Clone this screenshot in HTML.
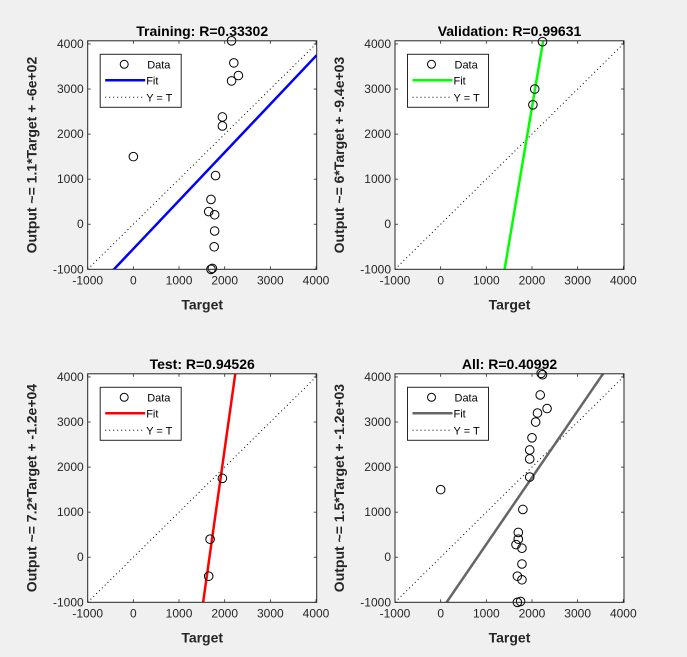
<!DOCTYPE html>
<html><head><meta charset="utf-8"><style>
html,body{margin:0;padding:0;background:#f0f0f0;width:687px;height:657px;overflow:hidden;}
svg{display:block;font-family:"Liberation Sans",Arial,sans-serif;}
</style></head><body>
<svg id="fig" width="687" height="657"></svg>
<script>
const ticks = [-1000, 0, 1000, 2000, 3000, 4000];
const titles = ["Training: R=0.33302", "Validation: R=0.99631", "Test: R=0.94526", "All: R=0.40992"];
const ylabels = ["Output ~= 1.1*Target + -6e+02", "Output ~= 6*Target + -9.4e+03", "Output ~= 7.2*Target + -1.2e+04", "Output ~= 1.5*Target + -1.2e+03"];
const fitColors = ["#0000ff", "#00ff00", "#ff0000", "#666666"];
const slopes = [1.07, 6.0, 7.2, 1.48];
const intercepts = [-545, -9400, -12000, -1192];
const trainX = [0, 1800, 1700, 1650, 1780, 1780, 1770, 1700, 1730, 1950, 1950, 2150, 2200, 2300, 2150];
const trainY = [1500, 1080, 550, 280, 210, -150, -500, -1000, -980, 2380, 2180, 3180, 3580, 3300, 4070];
const valX = [2060, 2020, 2230];
const valY = [3000, 2650, 4050];
const testX = [1950, 1680, 1650];
const testY = [1750, 400, -420];
const allX = [2200, 2230, 2180, 2330, 2120, 2080, 2000, 1950, 1950, 1950, 1800, 1700, 1700, 1650, 1780, 1780, 1680, 1780, 1680, 1750, 0];
const allY = [4080, 4050, 3600, 3300, 3200, 3000, 2650, 2380, 2180, 1780, 1060, 550, 400, 280, 200, -150, -420, -500, -1000, -980, 1500];
const xsData = [trainX, valX, testX, allX];
const ysData = [trainY, valY, testY, allY];
const names = ["training", "validation", "test", "all"];

const NS = "http://www.w3.org/2000/svg";
const svg = document.getElementById("fig");
function mk(tag, attrs, parent) {
  const e = document.createElementNS(NS, tag);
  for (const k in attrs) e.setAttribute(k, attrs[k]);
  (parent || svg).appendChild(e);
  return e;
}
const XMIN = -1000, XMAX = 4015, YMIN = -1000, YMAX = 4070;
const W = 229, H = 228.5;
const origins = [[87.7, 40.8], [395, 40.8], [87.7, 373.8], [395, 373.8]];

for (let p = 0; p < 4; p++) {
  const [L, T] = origins[p];
  const sx = v => L + (v - XMIN) / (XMAX - XMIN) * W;
  const sy = v => T + H - (v - YMIN) / (YMAX - YMIN) * H;
  const g = mk("g", {});
  
  
  const bg = mk("rect", {x: L, y: T, width: W, height: H, fill: "#fff"}, g);
  
  
  const clipId = "clip" + p;
  const cp = mk("clipPath", {id: clipId}, g);
  mk("rect", {x: L, y: T, width: W, height: H}, cp);
  const inner = mk("g", {"clip-path": "url(#" + clipId + ")"}, g);
  const yt = mk("line", {x1: sx(XMIN), y1: sy(XMIN), x2: sx(XMAX), y2: sy(XMAX), stroke: "#000", "stroke-width": 1, "stroke-dasharray": "1,3"}, inner);
  
  
  const m = slopes[p], b = intercepts[p];
  const fit = mk("line", {x1: sx(XMIN), y1: sy(m * XMIN + b), x2: sx(XMAX), y2: sy(m * XMAX + b), stroke: fitColors[p], "stroke-width": 2.5}, inner);
  
  
  const xs = xsData[p], ys = ysData[p];
  for (let i = 0; i < xs.length; i++) {
    const c = mk("circle", {cx: sx(xs[i]), cy: sy(ys[i]), r: 4.3, fill: "none", stroke: "#000", "stroke-width": 1}, g);
    
    
  }
  ticks.forEach(t => {
    const x = sx(t), y = sy(t);
    mk("line", {x1: x, y1: T + H, x2: x, y2: T + H - 3, stroke: "#262626", "stroke-width": 0.8}, g);
    mk("line", {x1: x, y1: T, x2: x, y2: T + 3, stroke: "#262626", "stroke-width": 0.8}, g);
    mk("line", {x1: L, y1: y, x2: L + 3, y2: y, stroke: "#262626", "stroke-width": 0.8}, g);
    mk("line", {x1: L + W, y1: y, x2: L + W - 3, y2: y, stroke: "#262626", "stroke-width": 0.8}, g);
    const xt = mk("text", {x: x, y: T + H + 15, "text-anchor": "middle", "font-size": 12, fill: "#262626"}, g);
    xt.textContent = t;
    
    
    const ytl = mk("text", {x: L - 4, y: y + 4, "text-anchor": "end", "font-size": 12, fill: "#262626"}, g);
    ytl.textContent = t;
    
    
  });
  const border = mk("rect", {x: L, y: T, width: W, height: H, fill: "none", stroke: "#262626", "stroke-width": 1}, g);
  
  
  const ti = mk("text", {x: L + W / 2, y: T - 5, "text-anchor": "middle", "font-size": 14, "font-weight": "bold", fill: "#000"}, g);
  ti.textContent = titles[p];
  
  
  const xl = mk("text", {x: L + W / 2, y: T + H + 40, "text-anchor": "middle", "font-size": 14, "font-weight": "bold", fill: "#262626"}, g);
  xl.textContent = "Target";
  
  
  const cx = L - 51, cy = T + H / 2;
  const yl = mk("text", {x: cx, y: cy, "text-anchor": "middle", "font-size": 14, "font-weight": "bold", fill: "#262626", transform: "rotate(-90 " + cx + " " + cy + ")"}, g);
  yl.textContent = ylabels[p];
  
  
  const lx = L + 12.5, ly = T + 13.5;
  const lg = mk("g", {}, g);
  
  
  mk("rect", {x: lx, y: ly, width: 81, height: 53, fill: "#fff", stroke: "#262626", "stroke-width": 1}, lg);
  mk("circle", {cx: lx + 24, cy: ly + 10, r: 4, fill: "none", stroke: "#000"}, lg);
  mk("line", {x1: lx + 5, y1: ly + 26, x2: lx + 45, y2: ly + 26, stroke: fitColors[p], "stroke-width": 2.5}, lg);
  mk("line", {x1: lx + 5, y1: ly + 43, x2: lx + 45, y2: ly + 43, stroke: "#000", "stroke-width": 1, "stroke-dasharray": "1,3"}, lg);
  const t1 = mk("text", {x: lx + 47, y: ly + 14, "font-size": 11, fill: "#000"}, lg); t1.textContent = "Data";
  
  
  const t2 = mk("text", {x: lx + 46, y: ly + 30, "font-size": 11, fill: "#000"}, lg); t2.textContent = "Fit";
  
  
  const t3 = mk("text", {x: lx + 46, y: ly + 47, "font-size": 11, fill: "#000"}, lg); t3.textContent = "Y = T";
  
  
}
</script>
</body></html>
